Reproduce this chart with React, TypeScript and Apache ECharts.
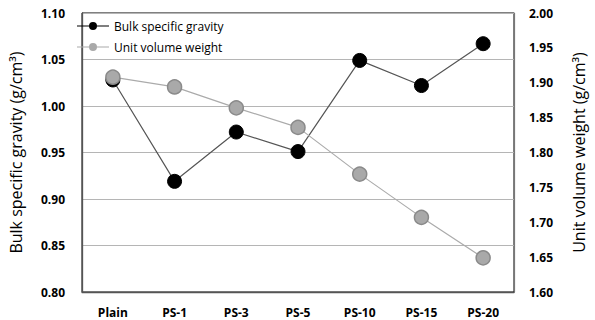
import React, { useEffect, useRef } from "react";
import * as echarts from "echarts";

const categories = ["Plain", "PS-1", "PS-3", "PS-5", "PS-10", "PS-15", "PS-20"];
const bulkSpecificGravity = [1.028, 0.919, 0.972, 0.951, 1.049, 1.022, 1.067];
const unitVolumeWeight = [1.908, 1.894, 1.864, 1.836, 1.769, 1.707, 1.649];
const leftTicks = { min: 0.8, max: 1.1, interval: 0.05 };
const rightTicks = { min: 1.6, max: 2.0, interval: 0.05 };

const FONT = "'Open Sans', Lato, sans-serif";
const LEGEND_ICON =
  "path://M0 3.5 H12.2 V4.5 H0 Z M19.8 3.5 H32 V4.5 H19.8 Z M12 4 A4 4 0 1 1 20 4 A4 4 0 1 1 12 4 Z";

export default function App() {
  const ref = useRef<HTMLDivElement>(null);
  useEffect(() => {
    if (!ref.current) return;
    const chart = echarts.init(ref.current, null, { renderer: "svg" });
    chart.setOption({
      animation: false,
      textStyle: { fontFamily: FONT },
      grid: {
        left: 75,
        right: 72,
        top: 13,
        bottom: 28,
        show: true,
        borderColor: "#000",
        borderWidth: 1,
        backgroundColor: "transparent",
      },
      legend: {
        orient: "vertical",
        left: 72,
        top: 15,
        itemWidth: 32,
        itemHeight: 8,
        itemGap: 9,
        icon: LEGEND_ICON,
        itemStyle: { borderWidth: 0 },
        textStyle: { fontFamily: FONT, fontSize: 12, color: "#000" },
        data: ["Bulk specific gravity", "Unit volume weight"],
      },
      xAxis: {
        type: "category",
        data: categories,
        boundaryGap: true,
        axisLine: { lineStyle: { color: "#555", width: 1.3 } },
        axisTick: { show: false },
        axisLabel: {
          color: "#000",
          fontWeight: "bold",
          fontSize: 12,
          fontFamily: FONT,
          margin: 14,
        },
      },
      yAxis: [
        {
          type: "value",
          min: leftTicks.min,
          max: leftTicks.max,
          interval: leftTicks.interval,
          position: "left",
          name: "Bulk specific gravity (g/cm³)",
          nameLocation: "middle",
          nameRotate: 90,
          nameGap: 58,
          nameTextStyle: { fontSize: 16, color: "#000", fontFamily: FONT },
          axisLine: { show: true, lineStyle: { color: "#555", width: 1.3 } },
          axisTick: { show: false },
          axisLabel: {
            color: "#000",
            fontWeight: "bold",
            fontSize: 12,
            fontFamily: FONT,
            margin: 17,
            formatter: (v: number) => v.toFixed(2),
          },
          splitLine: { show: true, lineStyle: { color: "#b5b5b5", width: 1.2 } },
        },
        {
          type: "value",
          min: rightTicks.min,
          max: rightTicks.max,
          interval: rightTicks.interval,
          position: "right",
          name: "Unit volume weight (g/cm³)",
          nameLocation: "middle",
          nameRotate: 90,
          nameGap: 57,
          nameTextStyle: { fontSize: 16, color: "#000", fontFamily: FONT },
          axisLine: { show: true, lineStyle: { color: "#777", width: 1.2 } },
          axisTick: { show: false },
          axisLabel: {
            color: "#000",
            fontWeight: "bold",
            fontSize: 12,
            fontFamily: FONT,
            margin: 15,
            formatter: (v: number) => v.toFixed(2),
          },
          splitLine: { show: false },
        },
      ],
      series: [
        {
          name: "Bulk specific gravity",
          type: "line",
          yAxisIndex: 0,
          data: bulkSpecificGravity,
          symbol: "circle",
          symbolSize: 14,
          lineStyle: { color: "#555", width: 1.2 },
          itemStyle: { color: "#000", borderColor: "#000", borderWidth: 1 },
        },
        {
          name: "Unit volume weight",
          type: "line",
          yAxisIndex: 1,
          data: unitVolumeWeight,
          symbol: "circle",
          symbolSize: 14,
          lineStyle: { color: "#ababab", width: 1.2 },
          itemStyle: { color: "#a9a9a9", borderColor: "#8a8a8a", borderWidth: 1.5 },
        },
      ],
    });
    return () => chart.dispose();
  }, []);
  return <div ref={ref} style={{ width: 595, height: 320, position: "absolute", left: 0, top: 0 }} />;
}
